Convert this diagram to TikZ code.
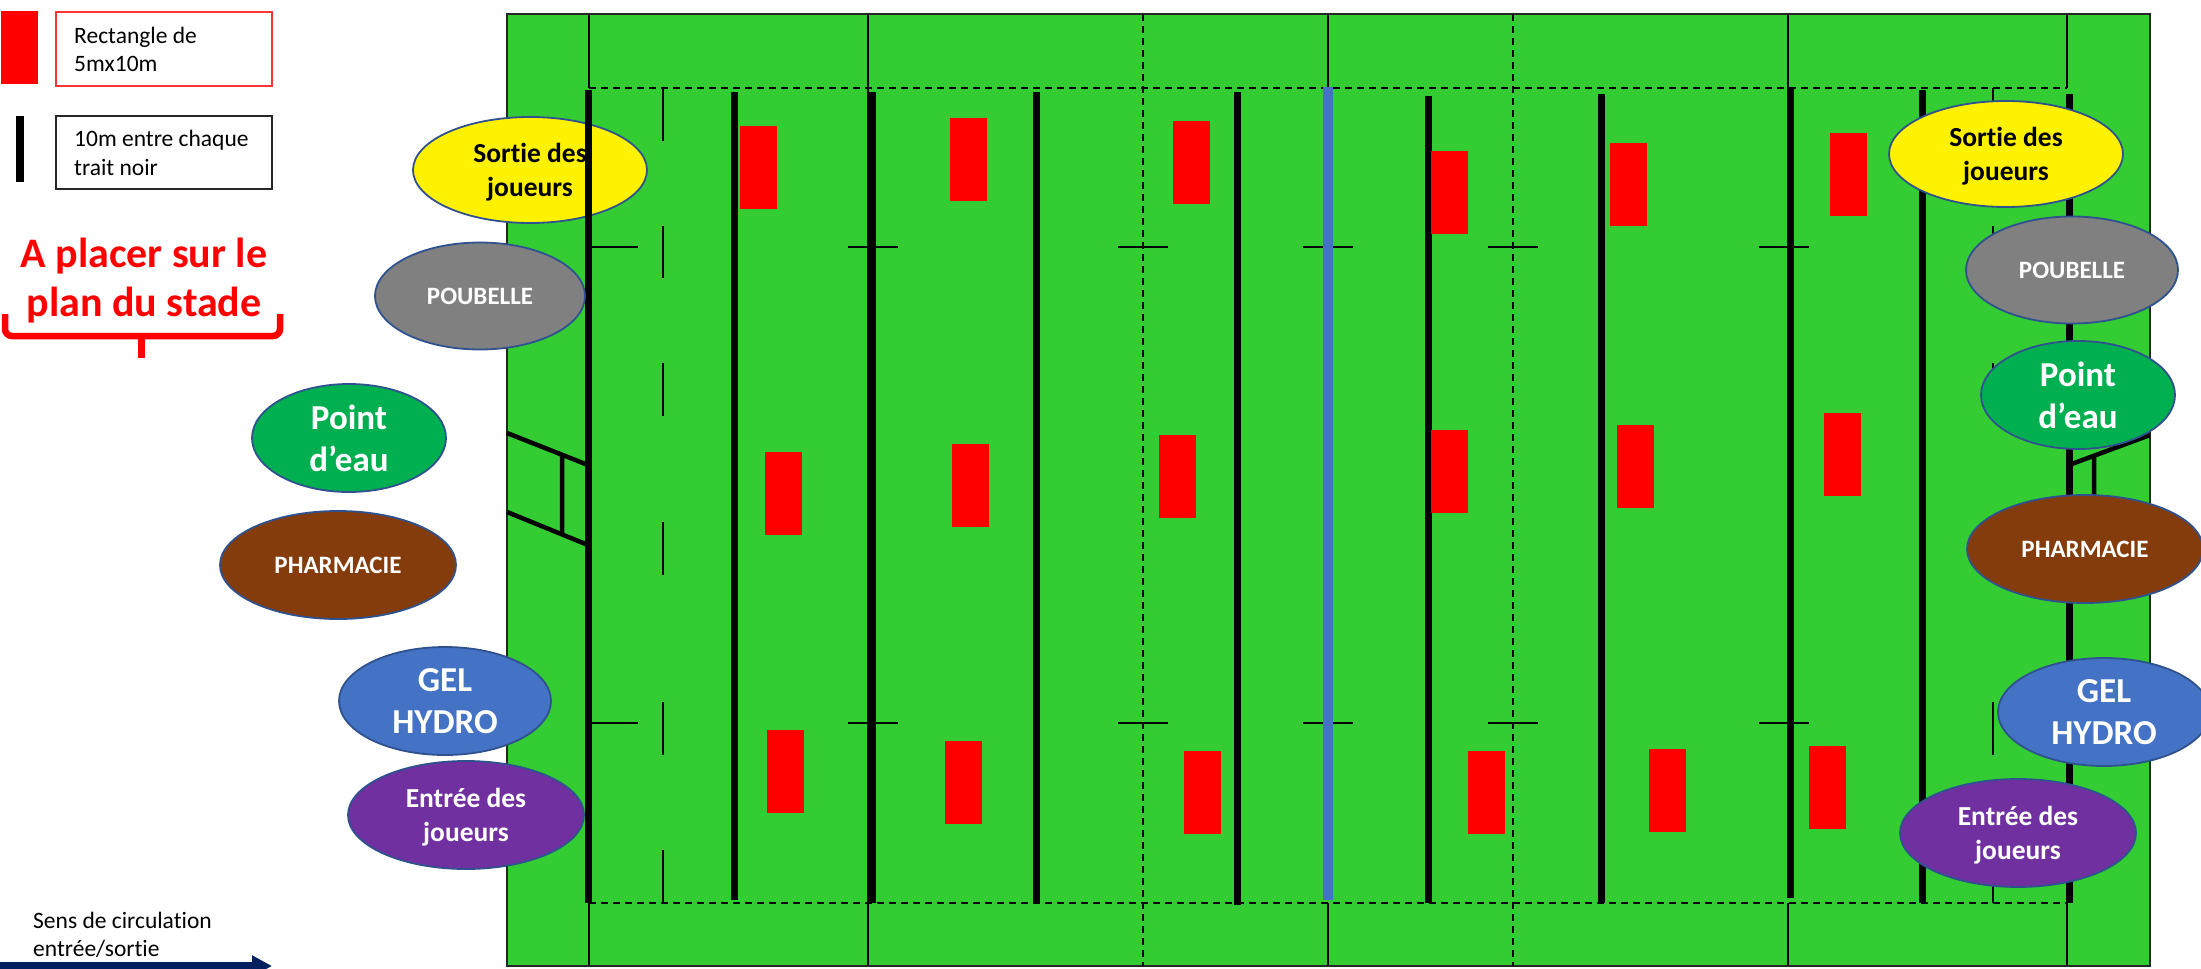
\documentclass[tikz,border=0pt]{standalone}
\usepackage{fontspec}
\setmainfont[Ligatures=NoCommon]{Carlito}
\usetikzlibrary{arrows.meta,shapes.geometric}
\definecolor{pelouse}{HTML}{33CC33}
\definecolor{bord}{HTML}{2F528F}
\definecolor{bleu}{HTML}{4472C4}
\definecolor{vert}{HTML}{00B050}
\definecolor{brun}{HTML}{843C0C}
\definecolor{violet}{HTML}{7030A0}
\definecolor{marine}{HTML}{002060}
\begin{document}
\begin{tikzpicture}[x=1pt,y=-1pt, thin line/.style={line width=1.5pt}, tiret/.style={line width=1.5pt,dash pattern=on 7pt off 5pt}, bar/.style={line width=7pt},
bulle/.style={ellipse,draw=bord,line width=1.8pt,inner sep=0pt,align=center,text=white,text depth=0pt,font=\bfseries\fontsize{27.5}{34.5}\selectfont},
petit/.style={font=\bfseries\fontsize{25}{28}\selectfont}, grand/.style={font=\bfseries\fontsize{35}{42}\selectfont},
legende/.style={inner sep=0pt,align=left,anchor=west,font=\fontsize{23.5}{28.5}\selectfont}]
\useasboundingbox (0,0) rectangle (2201,969);
\filldraw[fill=pelouse,draw=black!85,line width=2.5pt] (507,14) rectangle (2150,966);
\foreach \x in {589,868,1328,1788,2067} \draw[thin line] (\x,14)--(\x,88) (\x,903)--(\x,966);
\draw[thin line] (868,88)--(868,903);
\foreach \x in {1143,1513} \draw[tiret] (\x,14)--(\x,966);
\draw[tiret] (589,88)--(2067,88) (589,903)--(2067,903);
\foreach \x in {663,1993} \foreach \a/\b in {88/141,226/278,363/416,522/575,702/755,850/903} \draw[thin line] (\x,\a)--(\x,\b);
\foreach \y in {247,723} {\draw[thin line] (588,\y)--(638,\y);\foreach \x in {873,1143,1328,1513,1784} \draw[thin line] (\x-25,\y)--(\x+25,\y);}
\foreach \a/\b/\c in {734/92/900,872/92/903,1036/92/903,1237/92/905,1428/96/903,1601/94/903,1790/88/898,1922/90/903,2069/94/903} \draw[bar] (\a,\b)--(\a,\c);
\draw[line width=10pt,bleu] (1328,87)--(1328,900);
\draw[line width=4.5pt] (507,433)--(588,465) (507,512)--(588,545) (562,455)--(562,533);
\draw[line width=4.5pt] (2069,465)--(2150,435) (2094,457)--(2094,520);
\foreach \x/\y in {740/126,950/118,1173/121,1431/151,1610/143,1830/133,765/452,952/444,1159/435,1431/430,1617/425,1824/413,767/730,945/741,1184/751,1468/751,1649/749,1809/746} \fill[red] (\x,\y) rectangle ++(37,83);
\node[bulle,fill=yellow,text=black,minimum width=234pt,minimum height=106pt] (sortieG) at (530,170) {Sortie des\\joueurs};
\draw[bar] (588,90)--(588,903);
\node[bulle,petit,fill=gray,minimum width=210pt,minimum height=107pt] (poubelleG) at (480,296) {POUBELLE};
\node[bulle,grand,fill=vert,minimum width=194pt,minimum height=108pt] (eauG) at (349,438) {Point\\d’eau};
\node[bulle,petit,fill=brun,minimum width=236pt,minimum height=108pt] (pharmaG) at (338,565) {PHARMACIE};
\node[bulle,grand,fill=bleu,minimum width=212pt,minimum height=108pt] (gelG) at (445,701) {GEL\\HYDRO};
\node[bulle,fill=violet,minimum width=236pt,minimum height=108pt] (entreeG) at (466,815) {Entrée des\\joueurs};
\node[bulle,fill=yellow,text=black,minimum width=234pt,minimum height=106pt] (sortieD) at (2006,154) {Sortie des\\joueurs};
\node[bulle,petit,fill=gray,minimum width=212pt,minimum height=107pt] (poubelleD) at (2072,270) {POUBELLE};
\node[bulle,grand,fill=vert,minimum width=194pt,minimum height=108pt] (eauD) at (2078,395) {Point\\d’eau};
\node[bulle,petit,fill=brun,minimum width=236pt,minimum height=108pt] (pharmaD) at (2085,549) {PHARMACIE};
\node[bulle,grand,fill=bleu,minimum width=212pt,minimum height=108pt] (gelD) at (2104,712) {GEL\\HYDRO};
\node[bulle,fill=violet,minimum width=236pt,minimum height=108pt] (entreeD) at (2018,833) {Entrée des\\joueurs};
\fill[red] (1,11) rectangle (38,84);
\draw[line width=1.8pt,red!80!white] (56,12) rectangle (272,86);
\node[legende] (rect) at (74,49.5) {Rectangle de\\5mx10m};
\fill (16,116) rectangle (24,182);
\draw[line width=1.8pt,black!85] (56,116) rectangle (272,189);
\node[legende] (trait) at (74,153) {10m entre chaque\\trait noir};
\node[inner sep=0pt,align=center,text=red,font=\bfseries\fontsize{42}{49}\selectfont] (placer) at (144,281) {A placer sur le\\plan du stade};
\draw[red,line width=6.5pt,rounded corners=7pt] (5,314)--(5,336)--(280,336)--(280,314);
\draw[red,line width=7pt] (141,336)--(141,358);
\node[legende] (sens) at (33,935) {Sens de circulation\\entrée/sortie};
\coordinate (debut) at (-5,966);
\coordinate (fin) at (272,966);
\draw[marine,line width=8pt,-{Triangle[length=20pt,width=20pt]}] (debut)--(fin);
\end{tikzpicture}
\end{document}
